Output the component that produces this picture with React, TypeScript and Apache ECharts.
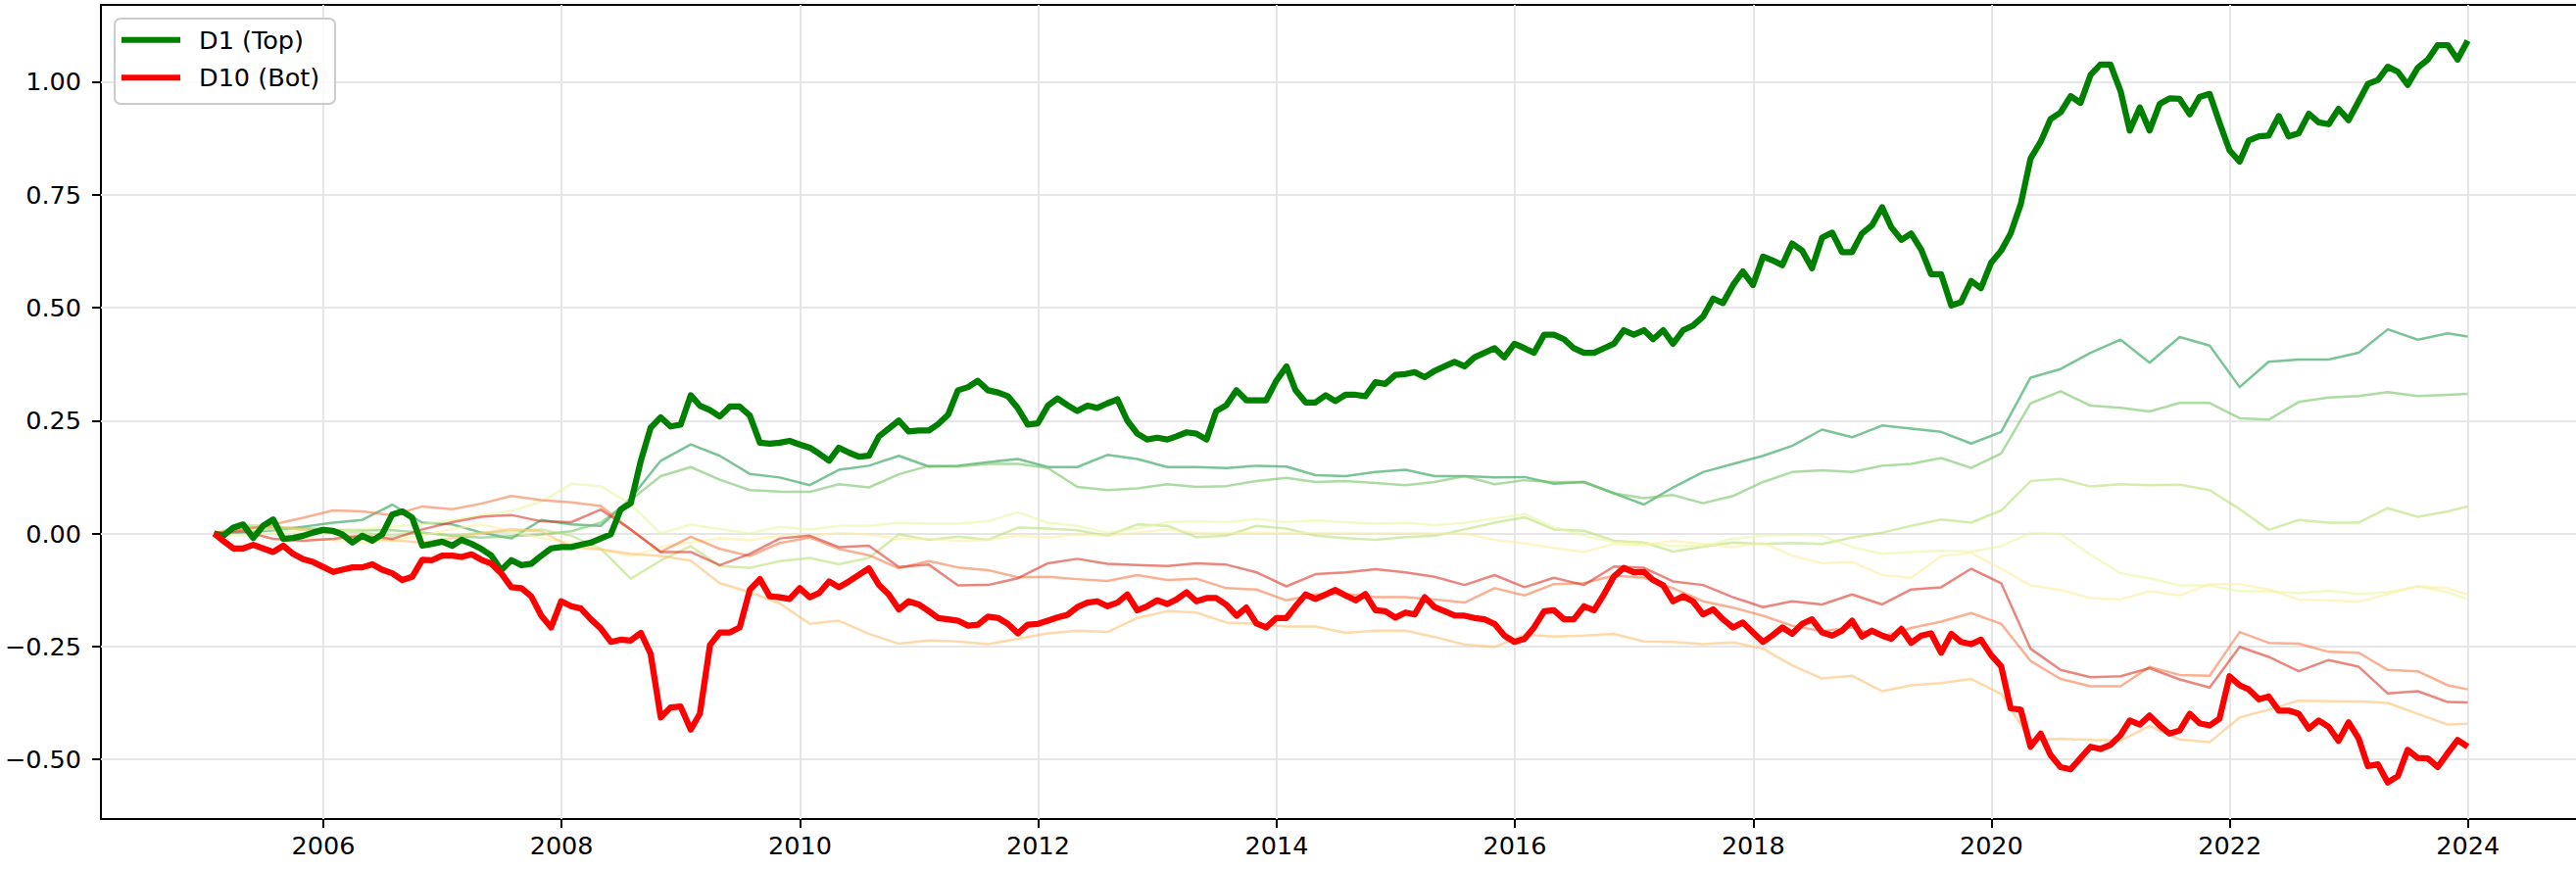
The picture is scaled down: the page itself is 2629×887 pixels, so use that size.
import React, { useEffect, useRef } from 'react';
import * as echarts from 'echarts';

// ---------- data ----------
const FIRST_YEAR = 2005; // monthly month-end points from Jan 2005 to Dec 2023
const N_MONTHS = 228;
const xTickYears = [2006, 2008, 2010, 2012, 2014, 2016, 2018, 2020, 2022, 2024];
const yTickValues = [-0.5, -0.25, 0, 0.25, 0.5, 0.75, 1.0];
const legendLabels = ['D1 (Top)', 'D10 (Bot)'];

const d1Top = [
  0.000, -0.005, 0.013, 0.020, -0.010, 0.017, 0.031, -0.012, -0.010, -0.005,
  0.002, 0.008, 0.006, -0.002, -0.020, -0.005, -0.016, -0.002, 0.042, 0.049,
  0.035, -0.027, -0.023, -0.018, -0.027, -0.014, -0.023, -0.034, -0.049, -0.081,
  -0.059, -0.070, -0.067, -0.049, -0.033, -0.030, -0.030, -0.025, -0.020, -0.011,
  -0.002, 0.053, 0.067, 0.161, 0.234, 0.257, 0.237, 0.241, 0.306, 0.283,
  0.273, 0.259, 0.281, 0.281, 0.261, 0.201, 0.199, 0.201, 0.205, 0.197,
  0.190, 0.177, 0.161, 0.190, 0.179, 0.170,
  0.172, 0.215, 0.232, 0.250, 0.226, 0.228, 0.228, 0.242, 0.263, 0.317,
  0.324, 0.338, 0.317, 0.312, 0.304, 0.277, 0.241, 0.244, 0.283, 0.299,
  0.284, 0.271, 0.283, 0.278, 0.288, 0.297, 0.250, 0.221, 0.208, 0.212,
  0.208, 0.215, 0.224, 0.221, 0.208, 0.271, 0.284, 0.317, 0.295, 0.295,
  0.295, 0.338, 0.370, 0.317, 0.290, 0.290, 0.306, 0.293, 0.307, 0.307,
  0.304, 0.335, 0.331, 0.351, 0.353, 0.357, 0.346,
  0.36, 0.37, 0.38, 0.37, 0.39, 0.40, 0.41, 0.39, 0.42, 0.41,
  0.40, 0.44, 0.44, 0.43, 0.41, 0.40, 0.40, 0.41, 0.42, 0.45,
  0.44, 0.45, 0.43, 0.45, 0.42, 0.45, 0.46, 0.48, 0.52, 0.51,
  0.55, 0.58, 0.55,
  0.613, 0.605, 0.594, 0.642, 0.626, 0.587, 0.655, 0.666, 0.623, 0.623,
  0.664, 0.682, 0.722, 0.678, 0.650, 0.664, 0.628, 0.574, 0.574, 0.505,
  0.512, 0.559, 0.543, 0.599, 0.626, 0.664, 0.729, 0.830, 0.867, 0.917,
  0.932, 0.968, 0.953, 1.015, 1.038, 1.038, 0.979, 0.892, 0.943, 0.892,
  0.951, 0.963, 0.962, 0.928, 0.966, 0.973, 0.910, 0.848, 0.823, 0.870,
  0.879, 0.881, 0.924, 0.879, 0.886, 0.929, 0.910, 0.906, 0.940, 0.915,
  0.957, 0.995, 1.004, 1.033, 1.022, 0.993, 1.031, 1.049, 1.081, 1.081,
  1.049, 1.091,
];

const d10Bot = [
  0.000, -0.016, -0.033, -0.033, -0.025, -0.033, -0.041, -0.027, -0.045, -0.057,
  -0.063, -0.074, -0.085, -0.080, -0.075, -0.075, -0.068, -0.080, -0.088, -0.103,
  -0.096, -0.058, -0.059, -0.049, -0.049, -0.052, -0.046, -0.058, -0.067, -0.088,
  -0.119, -0.121, -0.139, -0.182, -0.208, -0.150, -0.161, -0.166, -0.190, -0.210,
  -0.240, -0.235, -0.237, -0.220, -0.266, -0.407, -0.385, -0.383, -0.434, -0.399,
  -0.247, -0.219, -0.219, -0.208, -0.125, -0.101, -0.139, -0.141, -0.145, -0.121,
  -0.141, -0.132, -0.106, -0.119, -0.106, -0.092,
  -0.077, -0.114, -0.135, -0.168, -0.150, -0.157, -0.172, -0.187, -0.190, -0.193,
  -0.204, -0.202, -0.184, -0.187, -0.200, -0.221, -0.202, -0.200, -0.193, -0.186,
  -0.180, -0.163, -0.153, -0.150, -0.161, -0.153, -0.135, -0.170, -0.161, -0.148,
  -0.156, -0.146, -0.130, -0.150, -0.143, -0.143, -0.158, -0.182, -0.164, -0.199,
  -0.208, -0.187, -0.187, -0.161, -0.135, -0.145, -0.135, -0.125, -0.137, -0.148,
  -0.134, -0.170, -0.172, -0.186, -0.175, -0.179, -0.141, -0.163, -0.172, -0.181,
  -0.182,
  -0.187, -0.190, -0.200, -0.226, -0.240, -0.233, -0.208, -0.172, -0.170, -0.190,
  -0.190, -0.161, -0.170, -0.135, -0.095, -0.076, -0.086, -0.085, -0.103, -0.115,
  -0.150, -0.139, -0.150, -0.179, -0.168, -0.190, -0.208, -0.197, -0.219, -0.240,
  -0.226, -0.208, -0.222, -0.200, -0.190, -0.219, -0.226, -0.215, -0.193, -0.228,
  -0.215, -0.226, -0.233, -0.211, -0.242, -0.226, -0.221, -0.264, -0.222,
  -0.240, -0.245, -0.235, -0.269, -0.294, -0.387, -0.390, -0.472, -0.443, -0.490,
  -0.517, -0.522, -0.497, -0.472, -0.477, -0.468, -0.446, -0.414, -0.423, -0.403,
  -0.425, -0.443, -0.436, -0.399, -0.420, -0.425, -0.410, -0.316, -0.336, -0.345,
  -0.367, -0.361, -0.392, -0.392, -0.399, -0.432, -0.414, -0.428, -0.459, -0.418,
  -0.454, -0.515, -0.511, -0.551, -0.537, -0.479, -0.497, -0.498, -0.517, -0.486,
  -0.457, -0.472,
];

// middle deciles, read every third month (plus the last month)
const d2 = [
  0.000, 0.003, 0.007, 0.015, 0.024, 0.030, 0.064, 0.024, 0.020, 0.002,
  -0.011, 0.030, 0.020, 0.017, 0.078, 0.161, 0.197, 0.172, 0.132, 0.124,
  0.107, 0.141, 0.150, 0.172, 0.148, 0.150, 0.158, 0.165, 0.147, 0.147,
  0.174, 0.165, 0.147, 0.147, 0.145, 0.150, 0.148, 0.129, 0.127, 0.136,
  0.141, 0.127, 0.127, 0.124, 0.125, 0.110, 0.114, 0.089, 0.064, 0.102,
  0.136, 0.154, 0.172, 0.194, 0.230, 0.213, 0.239, 0.232, 0.225, 0.199,
  0.225, 0.345, 0.364, 0.400, 0.429, 0.378, 0.435, 0.416, 0.324, 0.380,
  0.385, 0.385, 0.400, 0.452, 0.429, 0.443, 0.436,
];
const d3 = [
  0.000, 0.015, 0.012, 0.012, 0.008, 0.007, 0.007, 0.002, -0.005, -0.009,
  -0.006, -0.002, 0.005, 0.024, 0.074, 0.127, 0.147, 0.119, 0.096, 0.093,
  0.092, 0.109, 0.102, 0.131, 0.150, 0.148, 0.154, 0.154, 0.145, 0.103,
  0.096, 0.100, 0.109, 0.103, 0.105, 0.116, 0.123, 0.114, 0.116, 0.112,
  0.107, 0.114, 0.127, 0.109, 0.118, 0.114, 0.114, 0.089, 0.078, 0.085,
  0.067, 0.083, 0.114, 0.136, 0.140, 0.136, 0.150, 0.154, 0.167, 0.145,
  0.177, 0.288, 0.315, 0.283, 0.278, 0.270, 0.289, 0.289, 0.255, 0.252,
  0.291, 0.301, 0.304, 0.313, 0.304, 0.307, 0.309,
];
const d4 = [
  0.000, 0.019, 0.017, 0.007, 0.007, 0.002, -0.005, 0.002, -0.005, 0.002,
  0.005, 0.009, -0.005, -0.034, -0.100, -0.060, -0.028, -0.072, -0.076, -0.061,
  -0.054, -0.068, -0.054, -0.002, -0.014, -0.007, -0.014, 0.013, 0.011, 0.007,
  -0.005, 0.020, 0.017, -0.008, -0.005, 0.017, 0.011, -0.005, -0.010, -0.014,
  -0.008, -0.005, 0.009, 0.024, 0.036, 0.009, 0.006, -0.016, -0.020, -0.040,
  -0.029, -0.020, -0.023, -0.021, -0.023, -0.009, 0.002, 0.017, 0.031, 0.024,
  0.051, 0.116, 0.121, 0.104, 0.109, 0.107, 0.108, 0.096, 0.054, 0.008,
  0.030, 0.024, 0.024, 0.056, 0.037, 0.049, 0.060,
];
const d5 = [
  0.000, 0.005, 0.010, 0.000, 0.005, 0.010, 0.015, 0.020, 0.030, 0.040,
  0.050, 0.070, 0.110, 0.105, 0.065, 0.000, 0.020, 0.010, 0.000, 0.015,
  0.009, 0.017, 0.017, 0.024, 0.022, 0.022, 0.027, 0.047, 0.024, 0.017,
  0.002, 0.011, 0.025, 0.027, 0.025, 0.032, 0.025, 0.029, 0.025, 0.022,
  0.024, 0.018, 0.024, 0.033, 0.043, 0.014, -0.005, -0.019, -0.021, -0.028,
  -0.027, -0.012, -0.005, -0.003, -0.005, -0.030, -0.045, -0.041, -0.038, -0.040,
  -0.028, 0.001, -0.001, -0.047, -0.088, -0.099, -0.115, -0.115, -0.128, -0.128,
  -0.132, -0.127, -0.134, -0.130, -0.117, -0.130, -0.146,
];
const d6 = [
  0.000, -0.005, 0.000, -0.010, -0.015, -0.020, -0.015, -0.005, 0.010, 0.020,
  0.005, -0.010, -0.020, -0.035, -0.050, -0.030, -0.020, -0.010, -0.015, -0.005,
  -0.004, 0.001, -0.002, -0.012, -0.012, -0.016, -0.014, -0.005, -0.009, -0.002,
  -0.005, 0.002, 0.009, 0.002, 0.001, 0.002, 0.001, 0.001, 0.001, 0.000,
  0.001, 0.000, 0.000, -0.014, -0.022, -0.032, -0.041, -0.023, -0.026, -0.016,
  -0.023, -0.030, -0.021, -0.049, -0.066, -0.063, -0.092, -0.098, -0.050, -0.043,
  -0.078, -0.115, -0.125, -0.143, -0.146, -0.128, -0.137, -0.112, -0.112, -0.124,
  -0.146, -0.148, -0.151, -0.134, -0.117, -0.121, -0.135,
];
const d7 = [
  0.000, 0.010, 0.015, 0.010, 0.000, -0.010, -0.015, -0.020, -0.010, 0.000,
  0.010, 0.005, -0.030, -0.035, -0.045, -0.050, -0.060, -0.110, -0.130, -0.155,
  -0.200, -0.193, -0.222, -0.244, -0.237, -0.239, -0.245, -0.233, -0.221, -0.215,
  -0.218, -0.187, -0.172, -0.175, -0.197, -0.200, -0.206, -0.206, -0.220, -0.215,
  -0.215, -0.229, -0.246, -0.251, -0.224, -0.228, -0.226, -0.222, -0.239, -0.240,
  -0.245, -0.241, -0.255, -0.292, -0.321, -0.315, -0.349, -0.336, -0.331, -0.322,
  -0.355, -0.457, -0.454, -0.457, -0.458, -0.426, -0.456, -0.462, -0.407, -0.390,
  -0.370, -0.371, -0.372, -0.375, -0.399, -0.423, -0.421,
];
const d8 = [
  0.000, 0.009, 0.020, 0.035, 0.051, 0.049, 0.040, 0.060, 0.054, 0.066,
  0.083, 0.074, 0.069, 0.061, 0.009, -0.041, -0.007, -0.034, -0.050, -0.021,
  -0.009, -0.034, -0.048, -0.077, -0.061, -0.075, -0.081, -0.097, -0.096, -0.101,
  -0.105, -0.092, -0.103, -0.100, -0.121, -0.124, -0.148, -0.135, -0.134, -0.141,
  -0.141, -0.146, -0.153, -0.121, -0.137, -0.112, -0.110, -0.093, -0.098, -0.121,
  -0.150, -0.164, -0.182, -0.204, -0.216, -0.208, -0.228, -0.209, -0.195, -0.176,
  -0.200, -0.282, -0.322, -0.338, -0.338, -0.295, -0.313, -0.315, -0.218, -0.242,
  -0.244, -0.262, -0.264, -0.302, -0.305, -0.336, -0.345,
];
const d9 = [
  0.000, 0.005, -0.012, -0.016, -0.012, -0.005, -0.012, 0.009, 0.025, 0.037,
  0.041, 0.027, 0.025, 0.053, 0.009, -0.041, -0.041, -0.070, -0.045, -0.011,
  -0.005, -0.030, -0.027, -0.074, -0.069, -0.115, -0.114, -0.099, -0.066, -0.056,
  -0.067, -0.070, -0.072, -0.066, -0.069, -0.086, -0.117, -0.090, -0.086, -0.079,
  -0.086, -0.096, -0.114, -0.092, -0.119, -0.098, -0.114, -0.073, -0.076, -0.106,
  -0.114, -0.141, -0.163, -0.150, -0.157, -0.135, -0.157, -0.124, -0.119, -0.078,
  -0.110, -0.255, -0.302, -0.318, -0.316, -0.298, -0.323, -0.341, -0.251, -0.273,
  -0.305, -0.280, -0.295, -0.354, -0.349, -0.373, -0.374,
];

const thinNames = ['D2', 'D3', 'D4', 'D5', 'D6', 'D7', 'D8', 'D9'];
const thinValues = [d2, d3, d4, d5, d6, d7, d8, d9];
const thinColors = [
  'rgba(34,156,82,0.6)',
  'rgba(116,195,101,0.6)',
  'rgba(183,224,117,0.6)',
  'rgba(234,246,162,0.6)',
  'rgba(254,238,162,0.6)',
  'rgba(253,191,111,0.6)',
  'rgba(246,123,74,0.6)',
  'rgba(218,55,42,0.6)',
];

// ---------- helpers ----------
const monthEnd = (i: number) => Date.UTC(FIRST_YEAR, i + 1, 0);
const sparseIdx: number[] = [];
for (let i = 0; i < N_MONTHS; i += 3) sparseIdx.push(i);
sparseIdx.push(N_MONTHS - 1);

const FONT = 'DejaVu Sans';
const xTickVals = xTickYears.map((y) => Date.UTC(y, 0, 1));
const X_MIN = Date.UTC(2004, 1, 19);
const X_MAX = Date.UTC(2024, 10, 27);

export default function App() {
  const ref = useRef<HTMLDivElement>(null);
  useEffect(() => {
    if (!ref.current) return;
    const chart = echarts.init(ref.current, undefined, { renderer: 'svg' });
    const axisLineStyle = { color: '#000', width: 2 };
    const thinSeries = thinNames.map((name, k) => ({
      name,
      type: 'line',
      data: sparseIdx.map((i, j) => [monthEnd(i), thinValues[k][j]]),
      showSymbol: false,
      symbol: 'none',
      color: thinColors[k],
      lineStyle: { color: thinColors[k], width: 2.5, join: 'round' },
      z: 3,
      silent: true,
    }));
    const legendColors = ['#008000', '#ff0000'];
    const legendRows = [40.7, 79.3];
    const option: any = {
      animation: false,
      backgroundColor: '#fff',
      grid: { left: 103, top: 5, right: 0, bottom: 51, containLabel: false },
      graphic: [
        {
          type: 'rect',
          z: 100,
          zlevel: 0,
          silent: true,
          shape: { x: 117, y: 19, width: 225, height: 87, r: 6 },
          style: { fill: 'rgba(255,255,255,0.8)', stroke: '#cccccc', lineWidth: 2 },
        },
        ...legendLabels.flatMap((label, k) => [
          {
            type: 'line',
            z: 101,
            silent: true,
            shape: { x1: 124, y1: legendRows[k], x2: 184, y2: legendRows[k] },
            style: { stroke: legendColors[k], lineWidth: 6 },
          },
          {
            type: 'text',
            z: 101,
            silent: true,
            x: 203,
            y: legendRows[k],
            style: {
              text: label,
              fontFamily: FONT,
              fontSize: 25.5,
              fill: '#000',
              verticalAlign: 'middle',
              align: 'left',
            },
          },
        ]),
      ],
      xAxis: [
        {
          type: 'value',
          min: X_MIN,
          max: X_MAX,
          axisLine: { show: true, onZero: false, lineStyle: axisLineStyle },
          axisTick: { show: true, length: 9, lineStyle: axisLineStyle, customValues: xTickVals },
          axisLabel: {
            customValues: xTickVals,
            formatter: (v: number) => String(new Date(v).getUTCFullYear()),
            fontFamily: FONT,
            fontSize: 25.5,
            color: '#000',
            margin: 14,
          },
          splitLine: { show: false },
        },
        {
          type: 'value',
          position: 'top',
          min: X_MIN,
          max: X_MAX,
          axisLine: { show: true, onZero: false, lineStyle: axisLineStyle },
          axisTick: { show: false },
          axisLabel: { show: false },
          splitLine: { show: false },
        },
      ],
      yAxis: {
        type: 'value',
        min: -0.632,
        max: 1.17,
        axisLine: { show: true, onZero: false, lineStyle: axisLineStyle },
        axisTick: { show: true, length: 9, lineStyle: axisLineStyle, customValues: yTickValues },
        axisLabel: {
          customValues: yTickValues,
          formatter: (v: number) => (v < 0 ? '\u2212' : '') + Math.abs(v).toFixed(2),
          fontFamily: FONT,
          fontSize: 25.5,
          color: '#000',
          margin: 20,
        },
        splitLine: { show: false },
      },
      series: [
        {
          name: 'grid',
          type: 'line',
          data: [[X_MIN, 0]],
          showSymbol: false,
          symbol: 'none',
          lineStyle: { opacity: 0 },
          z: 1,
          silent: true,
          markLine: {
            silent: true,
            z: 1,
            symbol: ['none', 'none'],
            label: { show: false },
            lineStyle: { color: '#e6e6e6', width: 2, type: 'solid' },
            data: [
              ...xTickVals.map((t) => ({ xAxis: t })),
              ...yTickValues.map((v) => ({ yAxis: v })),
            ],
          },
        },
        ...thinSeries,
        {
          name: 'D1 (Top)',
          type: 'line',
          data: d1Top.map((v, i) => [monthEnd(i), v]),
          showSymbol: false,
          symbol: 'none',
          color: '#008000',
          lineStyle: { color: '#008000', width: 6.25, join: 'round' },
          z: 4,
        },
        {
          name: 'D10 (Bot)',
          type: 'line',
          data: d10Bot.map((v, i) => [monthEnd(i), v]),
          showSymbol: false,
          symbol: 'none',
          color: '#ff0000',
          lineStyle: { color: '#ff0000', width: 6.25, join: 'round' },
          z: 5,
        },
      ],
    };
    chart.setOption(option);
    return () => chart.dispose();
  }, []);
  return (
    <div
      ref={ref}
      style={{ position: 'fixed', left: 0, top: 0, width: 2629, height: 887, background: '#fff' }}
    />
  );
}
